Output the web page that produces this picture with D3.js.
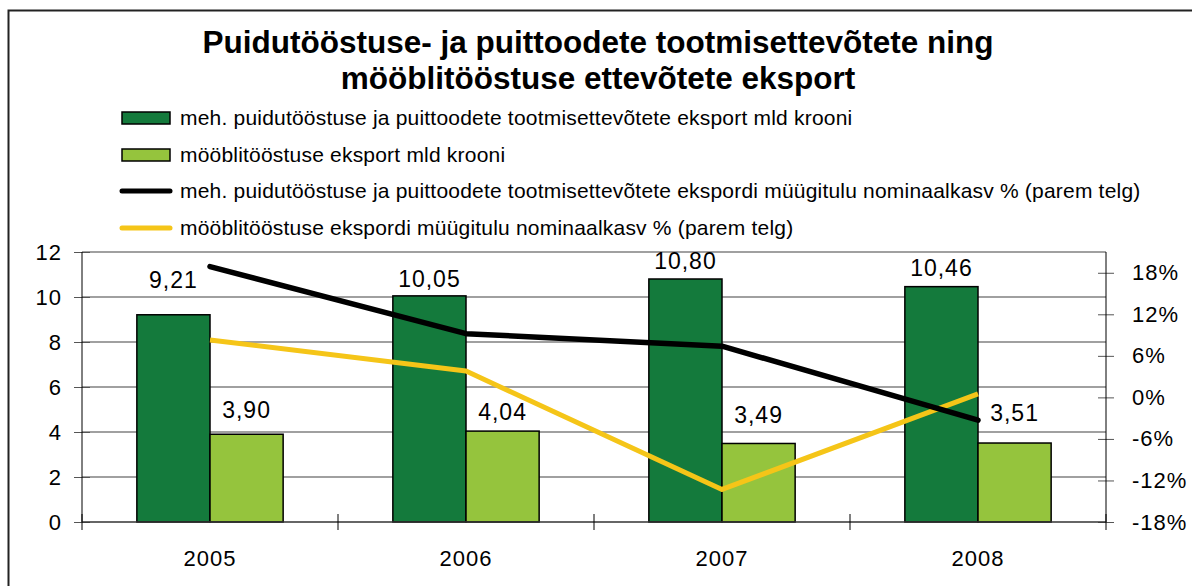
<!DOCTYPE html>
<html><head><meta charset="utf-8">
<script src="https://cdn.jsdelivr.net/npm/d3@7"></script>
<style>body{margin:0;background:#fff}svg{display:block}text{font-family:"Liberation Sans",Arial,sans-serif}</style>
</head><body><svg id="c" width="1192" height="586"></svg>
<script>
const years = ["2005","2006","2007","2008"];
const mehExport = [9.21, 10.05, 10.80, 10.46];
const moobExport = [3.90, 4.04, 3.49, 3.51];
const mehGrowth = [18.9, 9.2, 7.4, -3.3];
const moobGrowth = [8.3, 3.8, -13.3, 0.5];
const leftTicks = [0,2,4,6,8,10,12];
const rightTicks = [-18,-12,-6,0,6,12,18];
const titleLines = ["Puidutööstuse- ja puittoodete tootmisettevõtete ning","mööblitööstuse ettevõtete eksport"];
const legendLabels = [
 "meh. puidutööstuse ja puittoodete tootmisettevõtete eksport mld krooni",
 "mööblitööstuse eksport mld krooni",
 "meh. puidutööstuse ja puittoodete tootmisettevõtete ekspordi müügitulu nominaalkasv % (parem telg)",
 "mööblitööstuse ekspordi müügitulu nominaalkasv % (parem telg)"
];

const C = {dark:"#147A3C", light:"#95C43D", black:"#000", yellow:"#F5C518", grid:"#808080"};
const svg = d3.select("#c");
const L = 82, R = 1106, T = 252, B = 522;

svg.append("rect").attr("x",8.5).attr("y",10.5).attr("width",1200).attr("height",600)
  .attr("fill","none").attr("stroke","#222").attr("stroke-width",2);

svg.selectAll(".title").data(titleLines).join("text")
  .attr("x",598).attr("y",(d,i)=>53+i*36).attr("text-anchor","middle")
  .attr("font-weight","bold").attr("font-size",31.5).text(d=>d);

const x0 = d3.scaleBand().domain(years).range([L,R]).paddingInner(0).paddingOuter(0);
const x1 = d3.scaleBand().domain(["a","b"]).range([0,x0.bandwidth()]).paddingInner(0).paddingOuter(0.75);
const y = d3.scaleLinear().domain([0,12]).range([B,T]);
const y2 = d3.scaleLinear().domain([-18,21]).range([B,T]);

// gridlines
svg.append("g").selectAll("line").data(leftTicks.filter(d=>d>0)).join("line")
  .attr("x1",L).attr("x2",R).attr("y1",d=>y(d)).attr("y2",d=>y(d))
  .attr("stroke",C.grid).attr("stroke-width",1.5);

// left axis
const ga = svg.append("g").attr("transform",`translate(${L},0)`)
  .call(d3.axisLeft(y).tickValues(leftTicks).tickSize(8).tickPadding(12).tickFormat(d3.format("d")));
ga.select(".domain").remove();
ga.selectAll(".tick line").attr("x2",-8).attr("x1",8).attr("stroke","#555");
ga.selectAll("text").attr("font-size",22).attr("letter-spacing",1).attr("fill","#000").attr("font-family","Liberation Sans, Arial");
svg.append("line").attr("x1",L).attr("x2",L).attr("y1",T).attr("y2",B).attr("stroke","#000");

// right axis
const gr = svg.append("g").attr("transform",`translate(${R},0)`)
  .call(d3.axisRight(y2).tickValues(rightTicks).tickSize(8).tickPadding(18).tickFormat(d=>d+"%"));
gr.select(".domain").remove();
gr.selectAll(".tick line").attr("x1",-8).attr("x2",8).attr("stroke","#555");
gr.selectAll("text").attr("font-size",22).attr("letter-spacing",1).attr("fill","#000").attr("font-family","Liberation Sans, Arial");
svg.append("line").attr("x1",R).attr("x2",R).attr("y1",T).attr("y2",B).attr("stroke","#000");

// bars
const series = [mehExport, moobExport];
const cols = [C.dark, C.light];
const liftA = [27,9,10,11], liftB = [16,11,20,22];
series.forEach((vals,si)=>{
  svg.append("g").selectAll("rect").data(vals).join("rect")
    .attr("x",(d,i)=>x0(years[i])+x1(si?"b":"a"))
    .attr("y",d=>y(d)).attr("width",x1.bandwidth()).attr("height",d=>B-y(d))
    .attr("fill",cols[si]).attr("stroke","#000").attr("stroke-width",1.5);
});

// bottom axis line + category ticks
svg.append("line").attr("x1",L).attr("x2",R).attr("y1",B).attr("y2",B).attr("stroke","#333").attr("stroke-width",1.5);
svg.append("g").selectAll("line").data(d3.range(years.length+1)).join("line")
  .attr("x1",i=>L+i*x0.bandwidth()).attr("x2",i=>L+i*x0.bandwidth())
  .attr("y1",B-8).attr("y2",B+8).attr("stroke","#000");
svg.append("g").selectAll("text").data(years).join("text")
  .attr("x",d=>x0(d)+x0.bandwidth()/2).attr("y",566).attr("text-anchor","middle")
  .attr("font-size",22).attr("letter-spacing",1).text(d=>d);

// lines
const lineGen = d3.line().x((d,i)=>x0(years[i])+x0.bandwidth()/2).y(d=>y2(d));
svg.append("path").datum(moobGrowth).attr("d",lineGen).attr("fill","none")
  .attr("stroke",C.yellow).attr("stroke-width",5).attr("stroke-linejoin","round");
svg.append("path").datum(mehGrowth).attr("d",lineGen).attr("fill","none")
  .attr("stroke",C.black).attr("stroke-width",5.5).attr("stroke-linejoin","round").attr("stroke-linecap","round");

// data labels
const fmt = v=>v.toFixed(2).replace(".",",");
series.forEach((vals,si)=>{
  const lift = si?liftB:liftA;
  svg.append("g").selectAll("text").data(vals).join("text")
    .attr("x",(d,i)=>x0(years[i])+x1(si?"b":"a")+x1.bandwidth()/2)
    .attr("y",(d,i)=>y(d)-lift[i]).attr("text-anchor","middle")
    .attr("font-size",23).attr("letter-spacing",1).text(fmt);
});

// legend
const lg = svg.append("g");
const ly = [118,155,191,228];
legendLabels.forEach((t,i)=>{
  if(i<2){
    lg.append("rect").attr("x",122).attr("y",ly[i]-6).attr("width",48).attr("height",12)
      .attr("fill",cols[i]).attr("stroke","#000").attr("stroke-width",1.5);
  } else {
    lg.append("line").attr("x1",122).attr("x2",170).attr("y1",ly[i]).attr("y2",ly[i])
      .attr("stroke",i==2?C.black:C.yellow).attr("stroke-width",5).attr("stroke-linecap","round");
  }
  lg.append("text").attr("x",180).attr("y",ly[i]).attr("dy","0.35em").attr("font-size",21)
    .attr("letter-spacing",0.2).text(t);
});
</script></body></html>
